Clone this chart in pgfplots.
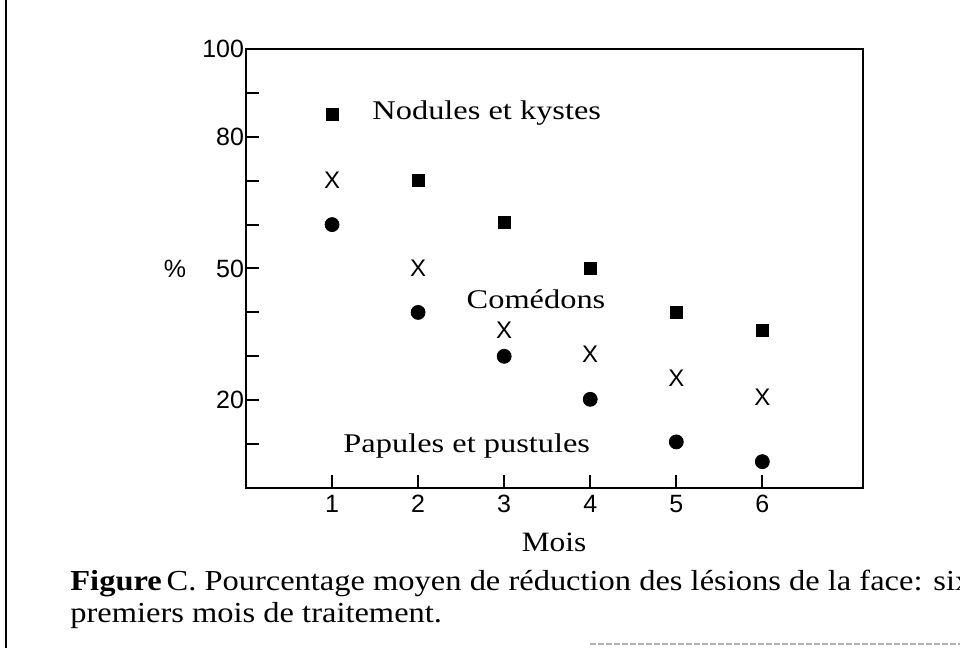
\documentclass[border=0pt]{standalone}
\usepackage{fontspec}
\setmainfont{Liberation Serif}[FakeStretch=1.2]
\newfontfamily\helv{Liberation Sans}
\newfontfamily\capfont{Liberation Serif}[FakeStretch=1.12]
\usepackage{pgfplots}
\pgfplotsset{compat=1.18}
\begin{document}
\begin{tikzpicture}
\useasboundingbox (0,0) rectangle (480bp,324bp);
\draw[line width=1.2bp] (3bp,0) -- (3bp,324bp);
\draw[line width=0.6bp, gray!60, dash pattern=on 3bp off 1bp] (295bp,2bp) -- (480bp,2bp);
\begin{axis}[
  at={(123bp,80bp)}, anchor=south west,
  scale only axis, width=308.5bp, height=219.5bp,
  xmin=0, xmax=7.17, ymin=0, ymax=100,
  axis line style={line width=1.2bp},
  tick style={line width=1bp, black},
  major tick length=6.5bp, tick align=inside,
  xtick={1,2,3,4,5,6}, xticklabels={1,2,3,4,5,6},
  ytick={10,20,30,40,50,60,70,80,90,100},
  yticklabels={,20,,,50,,,80,,100},
  xtick pos=bottom, ytick pos=left,
  ticklabel style={font=\helv\fontsize{12.5bp}{14bp}\selectfont},
  yticklabel style={xshift=2.5bp},
  /pgf/number format/assume math mode=true,
  clip=false,
]
\addplot[only marks, mark=square*, mark size=3bp, black, fill=black]
  coordinates {(1,85) (2,70) (3,60.5) (4,50) (5,40) (6,36)};
\addplot[only marks, mark=text, black, text mark as node=true,
  text mark={\helv\fontsize{12bp}{12bp}\selectfont X},
  text mark style={inner sep=0pt}]
  coordinates {(1,70) (2,50) (3,36) (4,30.5) (5,25) (6,20.7)};
\addplot[only marks, mark=*, mark size=3.5bp, black, fill=black]
  coordinates {(1,60) (2,40) (3,30) (4,20.2) (5,10.5) (6,6)};
\node[anchor=base west, inner sep=0pt, font=\fontsize{13.5bp}{16bp}\selectfont]
  at (axis cs:1.465,84) {Nodules et kystes};
\node[anchor=base west, inner sep=0pt, font=\fontsize{13.5bp}{16bp}\selectfont]
  at (axis cs:2.56,40.8) {Comédons};
\node[anchor=base west, inner sep=0pt, font=\fontsize{13.5bp}{16bp}\selectfont]
  at (axis cs:1.128,8) {Papules et pustules};
\node[inner sep=0pt, font=\helv\fontsize{12.5bp}{14bp}\selectfont]
  at (axis cs:-0.826,50) {\%};
\end{axis}
\node[anchor=base, inner sep=0pt, font=\capfont\fontsize{14bp}{16bp}\selectfont]
  at (277bp,48bp) {Mois};
\node[anchor=base west, inner sep=0pt, font=\capfont\fontsize{14.5bp}{16bp}\selectfont]
  at (35bp,29bp) {\textbf{Figure}\,C. Pourcentage moyen de réduction des lésions de la face: six};
\node[anchor=base west, inner sep=0pt, font=\capfont\fontsize{14.5bp}{16bp}\selectfont]
  at (35bp,13bp) {premiers mois de traitement.};
\end{tikzpicture}
\end{document}
